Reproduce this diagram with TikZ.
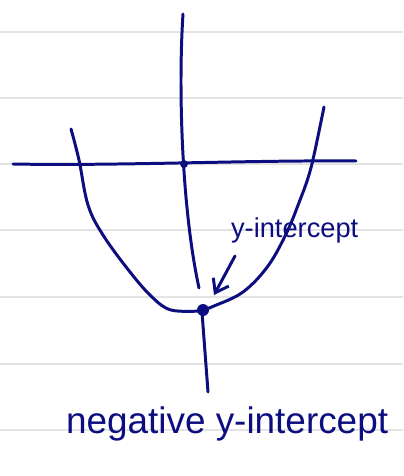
\documentclass[tikz,border=0pt]{standalone}
\usepackage{fontspec}
\setmainfont{Liberation Sans}
\usetikzlibrary{positioning, arrows.meta}
\definecolor{ink}{RGB}{12,14,128}

\begin{document}
\begin{tikzpicture}[
    x=0.02cm, y=-0.02cm,
    pen/.style={draw=ink, line width=1.7pt, line cap=round, line join=round},
    rule/.style={draw=gray!22, line width=1.1pt},
    dot/.style={circle, fill=ink, inner sep=0pt, minimum size=0.24cm},
    note/.style={text=ink, inner sep=1pt, anchor=base west},
    arrow/.style={pen, -{Straight Barb[length=7pt, width=10pt]}}
]
    \useasboundingbox (0,0) rectangle (403,476);

    % notebook rules
    \foreach \ry in {32,98,164,230,297,364,430}
        \draw[rule] (0,\ry) -- (403,\ry);

    % axes
    \draw[pen] (13,164) .. controls (120,166) and (250,160) .. (356,161);
    \draw[pen] (183,14) .. controls (178,90) and (182,210) .. (199,288);
    \draw[pen] (202,312) -- (208,392);
    \node[dot, minimum size=0.16cm] (origin) at (184,164) {};

    % parabola
    \draw[pen] plot[smooth, tension=0.6] coordinates {(71,129) (79,160) (88,205)
        (103,235) (130,272) (152,297) (171,310) (200,311)};
    \draw[pen] plot[smooth, tension=0.6] coordinates {(200,311) (214,306) (243,292)
        (268,266) (287,232) (300,200) (308,178) (314,155) (324,107)};

    \node[dot] (yint) at (203,310) {};

    % labels
    \node[note, font=\fontsize{15.5}{18}\selectfont] (lbl) at (229,237) {y-intercept};
    \node[note, font=\fontsize{21}{25}\selectfont] (neg) at (64,433) {negative y-intercept};

    \draw[arrow] ([shift={(6,19)}]lbl.base west) -- ([shift={(11,-15)}]yint.center);

\end{tikzpicture}
\end{document}
